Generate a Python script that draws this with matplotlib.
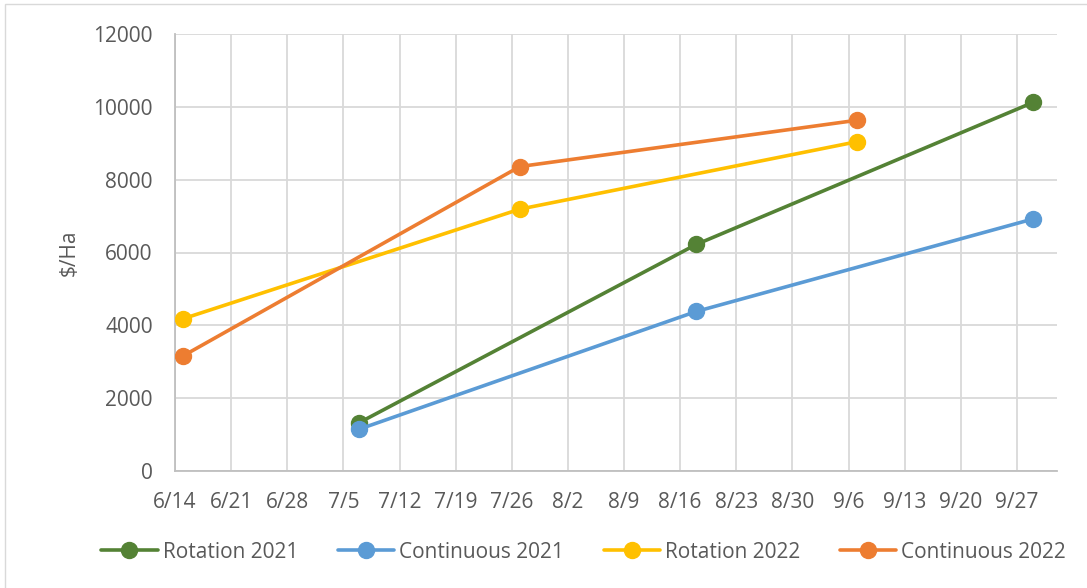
import matplotlib.pyplot as plt
import matplotlib.dates as mdates
import numpy as np
from matplotlib.patches import Rectangle

plt.rcParams['font.family'] = ['Open Sans', 'DejaVu Sans']

# 数据（x 轴只用月/日，年份统一放在同一年）
dates_2021 = ['2022-07-07', '2022-08-18', '2022-09-29']
dates_2022 = ['2022-06-15', '2022-07-27', '2022-09-07']
rotation_2021 = [1330, 6220, 10120]
continuous_2021 = [1150, 4380, 6920]
rotation_2022 = [4180, 7190, 9040]
continuous_2022 = [3160, 8360, 9630]

x_min = '2022-06-14'
x_max = '2022-10-02'
tick_start = '2022-06-14'
n_ticks = 16

series = [
    ('Rotation 2021', dates_2021, rotation_2021, '#548235'),
    ('Continuous 2021', dates_2021, continuous_2021, '#5B9BD5'),
    ('Rotation 2022', dates_2022, rotation_2022, '#FFC000'),
    ('Continuous 2022', dates_2022, continuous_2022, '#ED7D31'),
]

txt = '#595959'
W, H = 1087, 588
fig = plt.figure(figsize=(W / 100, H / 100), dpi=100)
ax = fig.add_axes([175 / W, 1 - 471 / H, (1057 - 175) / W, (471 - 34) / H])

# 外框
fig.patches.append(Rectangle((5 / W, -0.1), 1.2, 1 - 4 / H + 0.1, transform=fig.transFigure,
                             fill=False, edgecolor='#D9D9D9', linewidth=1))

for name, d, v, c in series:
    xd = np.array(d, dtype='datetime64[D]')
    ax.plot(xd, v, color=c, linewidth=2.6, marker='o', markersize=11.5,
            label=name, solid_capstyle='round', zorder=3)

ax.set_xlim(np.datetime64(x_min), np.datetime64(x_max))
ax.set_ylim(0, 12000)
ax.set_yticks(np.arange(0, 12001, 2000))
ticks = [np.datetime64(tick_start) + np.timedelta64(7 * i, 'D') for i in range(n_ticks)]
ax.set_xticks(ticks)
ax.xaxis.set_major_formatter(mdates.DateFormatter('%-m/%-d'))

ax.grid(True, color='#D9D9D9', linewidth=1.3, zorder=0)
ax.set_axisbelow(True)
for s in ['top', 'right']:
    ax.spines[s].set_visible(False)
for s in ['left', 'bottom']:
    ax.spines[s].set_color('#BFBFBF')
    ax.spines[s].set_linewidth(1.3)
ax.tick_params(length=0, labelsize=15, colors=txt)
ax.tick_params(axis='x', pad=15)
ax.tick_params(axis='y', pad=16)
ax.set_ylabel('$/Ha', fontsize=15, color=txt, labelpad=10)

leg = fig.legend(loc='center', bbox_to_anchor=(0.537, 1 - 552 / H), ncol=4, frameon=False,
                 fontsize=15, handlelength=2.7, columnspacing=1.9, handletextpad=0.25,
                 labelcolor=txt)

fig.savefig('out.png', dpi=100)
